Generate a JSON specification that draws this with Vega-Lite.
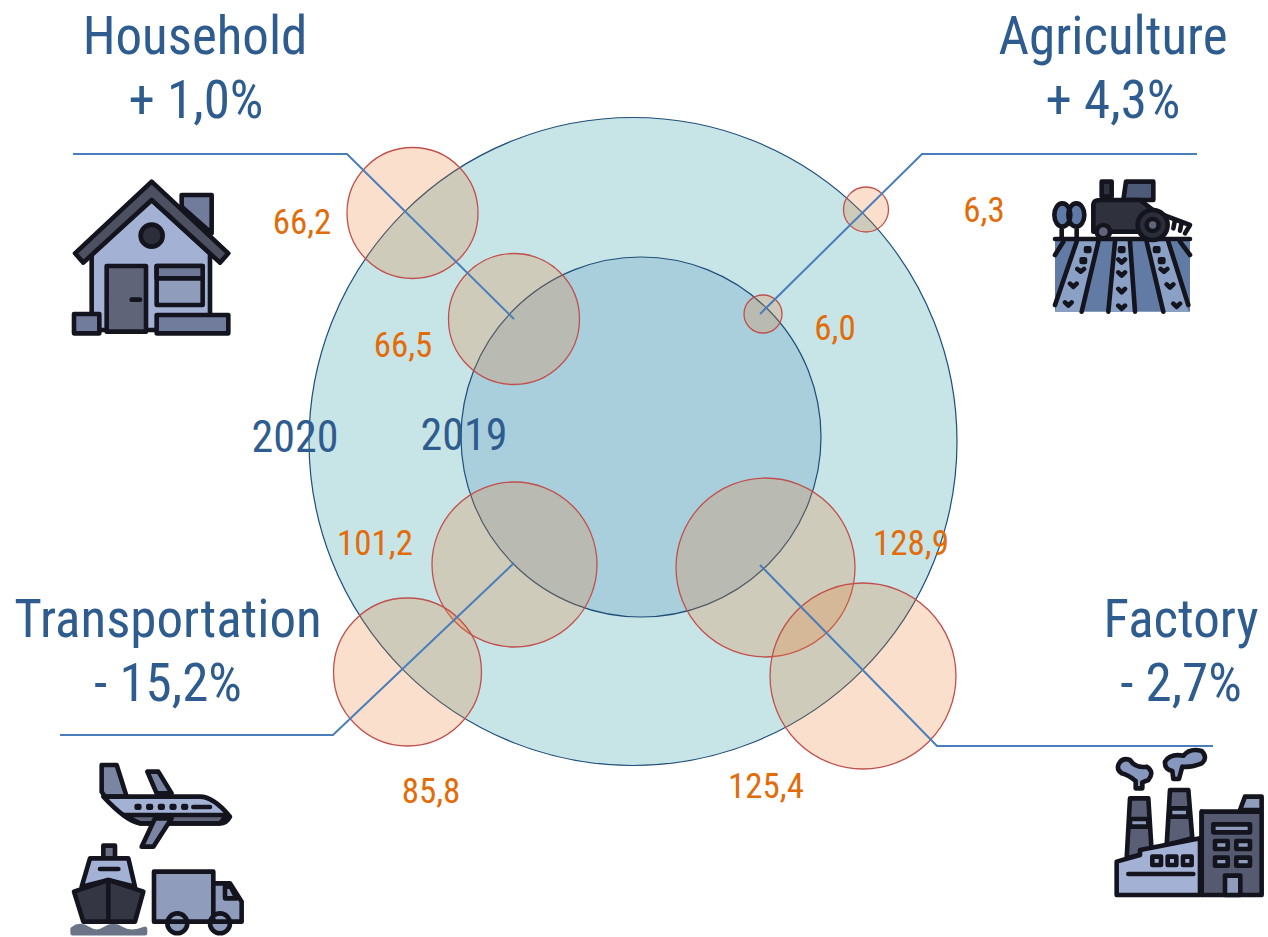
{"$schema":"https://vega.github.io/schema/vega-lite/v6.json","width":1268,"height":937,"autosize":{"type":"fit","contains":"padding"},"padding":0,"background":"white","config":{"view":{"stroke":null}},
"resolve":{"scale":{"fill":"independent","shape":"independent"}},
"encoding":{"x":{"field":"x","type":"quantitative","scale":{"domain":[0,1268],"nice":false,"zero":false},"axis":null},"y":{"field":"y","type":"quantitative","scale":{"domain":[937,0],"nice":false,"zero":false},"axis":null}},
"datasets":{
"rings":[{"year":"2020","x":633,"y":441.5,"bubble":1615},{"year":"2019","x":641,"y":437,"bubble":498.5}],
"bubbles":[
{"sector":"Household","year":"2020","x":412.5,"y":213,"bubble":66},
{"sector":"Household","year":"2019","x":514,"y":319,"bubble":66},
{"sector":"Agriculture","year":"2020","x":866,"y":209.5,"bubble":7.79},
{"sector":"Agriculture","year":"2019","x":763,"y":314,"bubble":5.55},
{"sector":"Transportation","year":"2019","x":514.5,"y":564.5,"bubble":104.7},
{"sector":"Transportation","year":"2020","x":407.5,"y":672,"bubble":84.2},
{"sector":"Factory","year":"2019","x":765.5,"y":567.5,"bubble":123.2},
{"sector":"Factory","year":"2020","x":863,"y":676,"bubble":133}],
"lines":[
{"sector":"Household","step":1,"x":73,"y":154},{"sector":"Household","step":2,"x":347,"y":154},{"sector":"Household","step":3,"x":514,"y":319},
{"sector":"Agriculture","step":1,"x":1197,"y":154},{"sector":"Agriculture","step":2,"x":922,"y":154},{"sector":"Agriculture","step":3,"x":760,"y":314},
{"sector":"Transportation","step":1,"x":60,"y":735},{"sector":"Transportation","step":2,"x":333,"y":735},{"sector":"Transportation","step":3,"x":514,"y":563},
{"sector":"Factory","step":1,"x":1213,"y":746},{"sector":"Factory","step":2,"x":937,"y":746},{"sector":"Factory","step":3,"x":760,"y":565}],
"titles":[
{"t":"Household","x":195,"y":38},{"t":"+ 1,0%","x":196,"y":102},
{"t":"Agriculture","x":1113,"y":38},{"t":"+ 4,3%","x":1113,"y":102},
{"t":"Transportation","x":168,"y":621},{"t":"- 15,2%","x":168,"y":685},
{"t":"Factory","x":1181,"y":621},{"t":"- 2,7%","x":1181,"y":685}],
"years":[{"t":"2020","x":295,"y":439},{"t":"2019","x":464,"y":437}],
"values":[
{"t":"66,2","x":302,"y":223},{"t":"66,5","x":403,"y":346},{"t":"6,3","x":984,"y":211},{"t":"6,0","x":835,"y":329},
{"t":"101,2","x":375,"y":544},{"t":"128,9","x":911,"y":544},{"t":"85,8","x":431,"y":792},{"t":"125,4","x":766,"y":787}],
"icons":[
{"part":"h1","x":60,"y":170},{"part":"h2","x":60,"y":170},{"part":"h3","x":60,"y":170},{"part":"h4","x":60,"y":170},{"part":"h5","x":60,"y":170},{"part":"h6","x":60,"y":170},{"part":"h7","x":60,"y":170},{"part":"h8","x":60,"y":170},
{"part":"a1","x":1040,"y":165},{"part":"a2","x":1040,"y":165},{"part":"a3","x":1040,"y":165},{"part":"a4","x":1040,"y":165},{"part":"a5","x":1040,"y":165},{"part":"a6","x":1040,"y":165},{"part":"a7","x":1040,"y":165},{"part":"a8","x":1040,"y":165},{"part":"a9","x":1040,"y":165},{"part":"a10","x":1040,"y":165},
{"part":"t1","x":60,"y":755},{"part":"t2","x":60,"y":755},{"part":"t3","x":60,"y":755},{"part":"t4","x":60,"y":755},{"part":"t5","x":60,"y":755},{"part":"t6","x":60,"y":755},{"part":"t7","x":60,"y":755},{"part":"t8","x":60,"y":755},{"part":"t9","x":60,"y":755},{"part":"t10","x":60,"y":755},{"part":"t11","x":60,"y":755},{"part":"t12","x":60,"y":755},
{"part":"f1","x":1105,"y":745},{"part":"f2","x":1105,"y":745},{"part":"f3","x":1105,"y":745},{"part":"f4","x":1105,"y":745},{"part":"f5","x":1105,"y":745},{"part":"f6","x":1105,"y":745},{"part":"f7","x":1105,"y":745},{"part":"f8","x":1105,"y":745},{"part":"f9","x":1105,"y":745},{"part":"f10","x":1105,"y":745}]
},
"layer":[
{"data":{"name":"rings"},"mark":{"type":"point","shape":"circle","filled":true,"stroke":"#1f4e79","strokeWidth":1.2,"opacity":1},
"encoding":{
"size":{"field":"bubble","type":"quantitative","scale":{"domain":[0,100],"range":[0,26000]},"legend":null},
"fill":{"field":"year","type":"nominal","scale":{"domain":["2020","2019"],"range":["#c7e4e7","#aacfdc"]},"legend":null}}},
{"data":{"name":"bubbles"},"mark":{"type":"point","shape":"circle","filled":true,"fill":"#e78034","fillOpacity":0.25,"stroke":"#c0504d","strokeWidth":1.3,"strokeOpacity":1,"opacity":1},
"encoding":{
"size":{"field":"bubble","type":"quantitative","scale":{"domain":[0,100],"range":[0,26000]},"legend":null}}},
{"data":{"name":"lines"},"mark":{"type":"line","stroke":"#4a7ebb","strokeWidth":2},
"encoding":{"detail":{"field":"sector"},"order":{"field":"step"}}},
{"data":{"name":"titles"},"mark":{"type":"text","font":"Roboto Condensed, Liberation Sans Narrow, DejaVu Sans Condensed, Roboto","fontSize":53,"fill":"#2f5c8f","align":"center","baseline":"middle"},
"encoding":{"text":{"field":"t"}}},
{"data":{"name":"years"},"mark":{"type":"text","font":"Roboto Condensed, Liberation Sans Narrow, DejaVu Sans Condensed, Roboto","fontSize":44,"fill":"#2f5c8f","align":"center","baseline":"middle"},
"encoding":{"text":{"field":"t"}}},
{"data":{"name":"values"},"mark":{"type":"text","font":"Roboto Condensed, Liberation Sans Narrow, DejaVu Sans Condensed, Roboto","fontSize":35,"fill":"#e36c0a","align":"center","baseline":"middle"},
"encoding":{"text":{"field":"t"}}},
{"data":{"name":"icons"},"mark":{"type":"point","filled":true,"size":0.4444,"strokeWidth":4.6,"strokeJoin":"round","strokeCap":"round","opacity":1},
"encoding":{
"stroke":{"condition":[{"test":"datum.part==='t10'","value":"#6c7488"},{"test":"datum.part==='a1'||datum.part==='a2'","value":"transparent"}],"value":"#14141e"},
"shape":{"field":"part","type":"nominal","legend":null,"scale":{
"domain":["h1","h2","h3","h4","h5","h6","h7","h8","a1","a2","a3","a4","a5","a6","a7","a8","a9","a10","t1","t2","t3","t4","t5","t6","t7","t8","t9","t10","t11","t12","f1","f2","f3","f4","f5","f6","f7","f8","f9","f10"],
"range":[
"M365 75H455V190L365 110Z",
"M95 250L275 90L450 250V480H95Z",
"M45 250L275 35L505 250L480 278L275 90L70 278Z",
"M242 197A33 33 0 1 1 308 197A33 33 0 1 1 242 197Z",
"M140 485V288H258V485ZM215 389H240V389Z",
"M290 288H428V405H290Z",
"M290 288H428V325H290Z",
"M42 432H118V490H42ZM290 435H505V490H290Z",
"M45 228H450V440H45Z",
"M110 228H175L125 440H45ZM225 228H270L285 440H205ZM320 228H385L445 440H370Z",
"M45 222H450M70 230L45 270M110 230L45 420M175 230L125 440M225 230L205 440M270 230L285 440M320 230L370 440M385 230L445 420M420 230L450 270",
"M138 250H148V258H138ZM125 283H135V291H125ZM112 312L122 320L132 312M90 356L100 366L110 356M75 412L85 422L95 412M240 250H250V258H240ZM235 283L245 293L255 283M235 322L245 332L255 322M235 372L245 382L255 372M235 422L245 432L255 422M345 250H355V258H345ZM360 283H370V291H360ZM362 312L372 320L382 312M380 358L390 368L400 358M400 416L410 426L420 416",
"M43 150A24 35 0 1 1 91 150A24 35 0 1 1 43 150ZM85 150A24 35 0 1 1 133 150A24 35 0 1 1 85 150ZM65 185V222M110 185V222",
"M250 105L258 50H340V105Z",
"M185 50H215V95H185ZM160 190V118Q162 105 180 105H300L345 140V200H160Z",
"M370 150L450 180L435 205M405 165L400 190M425 172L420 197",
"M293 180A45 45 0 1 1 383 180A45 45 0 1 1 293 180Z",
"M170 200A20 20 0 1 1 210 200A20 20 0 1 1 170 200ZM320 180A18 18 0 1 1 356 180A18 18 0 1 1 320 180Z",
"M125 30H170L200 125H135L125 110Z",
"M262 50H295L335 115H290Z",
"M130 125H420Q460 125 510 185Q500 205 480 205H240Q200 200 130 125Z",
"M190 180H500L480 205H240Z",
"M285 190H335L280 275H245Z",
"M230 153H238V158H230ZM265 153H273V158H265ZM300 153H308V158H300ZM335 153H343V158H335ZM370 153H378V158H370ZM400 156H450",
"M130 272H165V310H130Z",
"M90 310H205L225 395L145 375L65 395Z",
"M120 342H175",
"M38 522Q60 505 85 522T135 522T185 522T255 522V535H38Z",
"M42 410L145 375L250 410L225 500H70ZM145 375V500",
"M282 350H460V500H282ZM460 385H510L545 440V500H460ZM495 395H512L530 430H495ZM322 505A30 30 0 1 1 382 505A30 30 0 1 1 322 505ZM450 505A30 30 0 1 1 510 505A30 30 0 1 1 450 505Z",
"M40 60Q50 35 75 45Q90 70 125 65Q150 80 130 105L112 112V130H92V108Q70 90 50 85Q35 75 40 60ZM180 50Q195 25 235 32Q255 8 290 18Q310 38 290 55Q260 68 232 65L222 102H205L202 78Q178 72 180 50Z",
"M75 160H130L140 320L65 340ZM195 135H250L262 280L185 300Z",
"M75 222H130V245H75ZM195 190H250V215H195Z",
"M35 350L105 330V315L285 280V450H35Z",
"M405 195L420 155H470V195Z",
"M290 200H470V450H290Z",
"M325 238H435V262H325ZM330 288H368V312H330ZM394 288H435V312H394ZM330 338H368V362H330ZM394 338H435V362H394ZM360 392H406V450H360Z",
"M142 335H168V360H142ZM188 335H214V360H188ZM234 335H260V360H234Z",
"M70 387H265",
"M290 200V450"
]}},
"fill":{"field":"part","type":"nominal","legend":null,"scale":{
"domain":["h1","h2","h3","h4","h5","h6","h7","h8","a1","a2","a3","a4","a5","a6","a7","a8","a9","a10","t1","t2","t3","t4","t5","t6","t7","t8","t9","t10","t11","t12","f1","f2","f3","f4","f5","f6","f7","f8","f9","f10"],
"range":["#717c9c","#a3b1d4","#4c5060","#2c2e3a","#5f6479","#8f9cbb","#6f7a98","#717c9c",
"#617ba5","#8aa0c4","transparent","#14141e","#5f7aa6","#4d5b78","#2f313c","transparent","#2b2d38","#5f6479",
"#7a84a3","#7a84a3","#a3b1d4","#5f6479","#7a84a3","#14141e","#6c6f85","#a3b1d4","transparent","#6c7488","#343644","#8f9cbb",
"#8797bd","#5a5f76","#8f9cbb","#a3b1d4","#8f9cbb","#555a70","#8f9cbb","#a3b1d4","transparent","transparent"]}}}}
]}
